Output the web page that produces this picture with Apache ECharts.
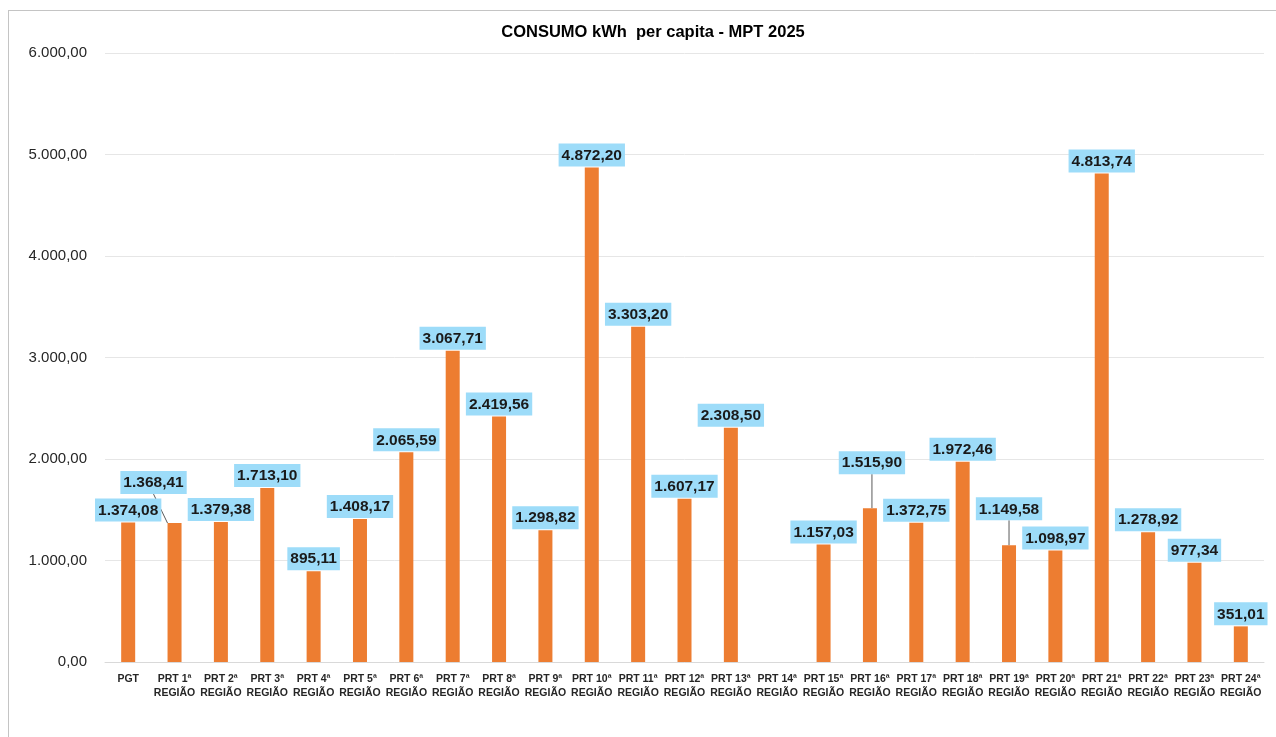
<!DOCTYPE html>
<html><head><meta charset="utf-8">
<script src="https://cdn.jsdelivr.net/npm/echarts@6/dist/echarts.min.js"></script>
<style>
html,body{margin:0;padding:0;background:#fff;}
#frame{position:absolute;left:8px;top:10px;width:1280px;height:740px;border:1px solid #c4c4c4;box-sizing:border-box;}
#c{position:absolute;left:0;top:0;width:1276px;height:737px;}
</style></head>
<body>
<div id="frame"></div>
<div id="c"></div>
<script>
const categories = ['PGT','PRT 1ª\nREGIÃO','PRT 2ª\nREGIÃO','PRT 3ª\nREGIÃO','PRT 4ª\nREGIÃO','PRT 5ª\nREGIÃO','PRT 6ª\nREGIÃO','PRT 7ª\nREGIÃO','PRT 8ª\nREGIÃO','PRT 9ª\nREGIÃO','PRT 10ª\nREGIÃO','PRT 11ª\nREGIÃO','PRT 12ª\nREGIÃO','PRT 13ª\nREGIÃO','PRT 14ª\nREGIÃO','PRT 15ª\nREGIÃO','PRT 16ª\nREGIÃO','PRT 17ª\nREGIÃO','PRT 18ª\nREGIÃO','PRT 19ª\nREGIÃO','PRT 20ª\nREGIÃO','PRT 21ª\nREGIÃO','PRT 22ª\nREGIÃO','PRT 23ª\nREGIÃO','PRT 24ª\nREGIÃO'];
const consumo = [1374.08,1368.41,1379.38,1713.10,895.11,1408.17,2065.59,3067.71,2419.56,1298.82,4872.20,3303.20,1607.17,2308.50,null,1157.03,1515.90,1372.75,1972.46,1149.58,1098.97,4813.74,1278.92,977.34,351.01];
const titleText = 'CONSUMO kWh  per capita - MPT 2025';
// labels moved away from their bars (index: [dx, dy])
const movedLabels = {1:[-21,-28], 16:[2,-33], 19:[0,-24]};

function fmtBR(v){
  const neg = v < 0; v = Math.abs(v);
  let s = v.toFixed(2);
  let [i,d] = s.split('.');
  i = i.replace(/\B(?=(\d{3})+(?!\d))/g,'.');
  return (neg?'-':'') + i + ',' + d;
}

const data = consumo.map((v,i)=>{
  const o = {value: v};
  if (movedLabels[i]) {
    o.labelLine = {show: true, lineStyle:{color:'#595959', width:1}};
  }
  return o;
});

const chart = echarts.init(document.getElementById('c'));
chart.setOption({
  animation:false,
  title:{text:titleText,left:648,top:19,textAlign:'center',
    textStyle:{fontFamily:'Liberation Sans, Arial, sans-serif',fontWeight:'bold',fontSize:16.5,color:'#000'}},
  grid:{left:105,right:12,top:53,bottom:75,containLabel:false},
  xAxis:{type:'category',data:categories,
    axisLine:{lineStyle:{color:'#d9d9d9'}},axisTick:{show:false},
    axisLabel:{interval:0,fontFamily:'Liberation Sans Narrow, Liberation Sans, Arial, sans-serif',fontWeight:'bold',fontSize:10.5,color:'#262626',lineHeight:14,margin:10}},
  yAxis:{type:'value',min:0,max:6000,interval:1000,
    axisLine:{show:false},axisTick:{show:false},
    splitLine:{lineStyle:{color:'#e6e6e6'}},
    axisLabel:{formatter:v=>fmtBR(v),fontFamily:'Liberation Sans, Arial, sans-serif',fontSize:15,color:'#262626',margin:18}},
  series:[{type:'bar',data:data,barWidth:14,
    itemStyle:{color:'#ED7D31'},
    label:{show:true,position:'top',distance:1,formatter:p=>fmtBR(p.value),
      overflow:'none',
      backgroundColor:'#9DDCF9',padding:[4,3,3,3],
      fontFamily:'Liberation Sans Narrow, Liberation Sans, Arial, sans-serif',fontWeight:'bold',fontSize:15.5,color:'#1a1a1a'},
    labelLayout:function(p){
      const m = movedLabels[p.dataIndex];
      return m ? {dx:m[0], dy:m[1], hideOverlap:false} : {hideOverlap:false};
    },
    labelLine:{show:false}
  }]
});
</script>
</body></html>
